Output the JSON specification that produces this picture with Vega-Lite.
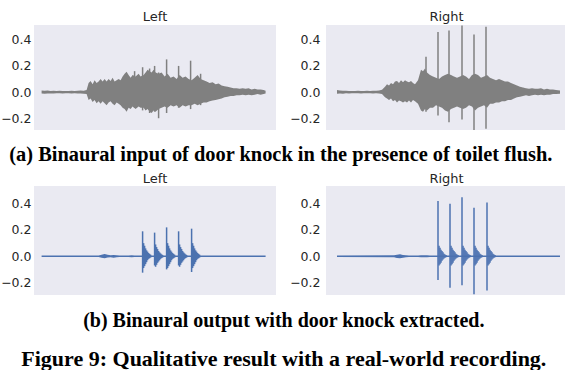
{
  "$schema": "https://vega.github.io/schema/vega-lite/v6.json",
  "padding": {"left": 0, "top": 11, "right": 0, "bottom": 0},
  "background": "white",
  "config": {
    "view": {"fill": "#EAEAF2", "stroke": null},
    "axis": {"grid": false, "ticks": false, "domain": false, "labelFont": "DejaVu Sans", "labelFontSize": 12.5, "labelColor": "#262626", "labelPadding": 6, "labelOverlap": false, "labelBound": false},
    "title": {"font": "DejaVu Sans", "fontSize": 13, "fontWeight": "normal", "color": "#262626", "offset": 3}
  },
  "datasets": {
    "env": [
      {"p":"aL","t":0,"lo":-0.01,"hi":0.012},{"p":"aL","t":3,"lo":-0.012,"hi":0.01},{"p":"aL","t":6,"lo":-0.01,"hi":0.013},{"p":"aL","t":9,"lo":-0.011,"hi":0.009},{"p":"aL","t":12,"lo":-0.01,"hi":0.011},{"p":"aL","t":15,"lo":-0.009,"hi":0.008},{"p":"aL","t":18,"lo":-0.008,"hi":0.01},{"p":"aL","t":21,"lo":-0.01,"hi":0.008},{"p":"aL","t":24,"lo":-0.008,"hi":0.009},{"p":"aL","t":27,"lo":-0.009,"hi":0.008},{"p":"aL","t":30,"lo":-0.01,"hi":0.01},{"p":"aL","t":33,"lo":-0.008,"hi":0.009},{"p":"aL","t":36,"lo":-0.01,"hi":0.01},{"p":"aL","t":39,"lo":-0.011,"hi":0.012},{"p":"aL","t":42,"lo":-0.012,"hi":0.011},{"p":"aL","t":45,"lo":-0.014,"hi":0.015},{"p":"aL","t":47,"lo":-0.06,"hi":0.07},{"p":"aL","t":49,"lo":-0.05,"hi":0.085},{"p":"aL","t":51,"lo":-0.075,"hi":0.06},{"p":"aL","t":53,"lo":-0.06,"hi":0.09},{"p":"aL","t":55,"lo":-0.085,"hi":0.07},{"p":"aL","t":57,"lo":-0.07,"hi":0.08},{"p":"aL","t":59,"lo":-0.09,"hi":0.1},{"p":"aL","t":61,"lo":-0.07,"hi":0.08},{"p":"aL","t":63,"lo":-0.085,"hi":0.1},{"p":"aL","t":65,"lo":-0.1,"hi":0.08},{"p":"aL","t":67,"lo":-0.08,"hi":0.1},{"p":"aL","t":69,"lo":-0.07,"hi":0.085},{"p":"aL","t":71,"lo":-0.09,"hi":0.11},{"p":"aL","t":73,"lo":-0.1,"hi":0.08},{"p":"aL","t":75,"lo":-0.08,"hi":0.09},{"p":"aL","t":77,"lo":-0.09,"hi":0.1},{"p":"aL","t":79,"lo":-0.1,"hi":0.09},{"p":"aL","t":81,"lo":-0.12,"hi":0.12},{"p":"aL","t":83,"lo":-0.13,"hi":0.14},{"p":"aL","t":85,"lo":-0.15,"hi":0.155},{"p":"aL","t":87,"lo":-0.12,"hi":0.13},{"p":"aL","t":89,"lo":-0.13,"hi":0.11},{"p":"aL","t":91,"lo":-0.11,"hi":0.13},{"p":"aL","t":94,"lo":-0.13,"hi":0.12},{"p":"aL","t":97,"lo":-0.11,"hi":0.14},{"p":"aL","t":99,"lo":-0.12,"hi":0.12},{"p":"aL","t":102,"lo":-0.12,"hi":0.13},{"p":"aL","t":104,"lo":-0.14,"hi":0.15},{"p":"aL","t":106,"lo":-0.13,"hi":0.17},{"p":"aL","t":108,"lo":-0.15,"hi":0.16},{"p":"aL","t":110,"lo":-0.16,"hi":0.15},{"p":"aL","t":112,"lo":-0.14,"hi":0.17},{"p":"aL","t":114,"lo":-0.15,"hi":0.15},{"p":"aL","t":117,"lo":-0.13,"hi":0.14},{"p":"aL","t":120,"lo":-0.12,"hi":0.15},{"p":"aL","t":123,"lo":-0.11,"hi":0.12},{"p":"aL","t":126,"lo":-0.12,"hi":0.14},{"p":"aL","t":129,"lo":-0.1,"hi":0.11},{"p":"aL","t":132,"lo":-0.11,"hi":0.12},{"p":"aL","t":135,"lo":-0.1,"hi":0.1},{"p":"aL","t":138,"lo":-0.12,"hi":0.13},{"p":"aL","t":141,"lo":-0.1,"hi":0.11},{"p":"aL","t":144,"lo":-0.11,"hi":0.12},{"p":"aL","t":147,"lo":-0.1,"hi":0.1},{"p":"aL","t":150,"lo":-0.1,"hi":0.09},{"p":"aL","t":153,"lo":-0.09,"hi":0.11},{"p":"aL","t":156,"lo":-0.1,"hi":0.13},{"p":"aL","t":159,"lo":-0.09,"hi":0.1},{"p":"aL","t":162,"lo":-0.08,"hi":0.09},{"p":"aL","t":165,"lo":-0.08,"hi":0.08},{"p":"aL","t":168,"lo":-0.07,"hi":0.07},{"p":"aL","t":171,"lo":-0.065,"hi":0.075},{"p":"aL","t":174,"lo":-0.06,"hi":0.06},{"p":"aL","t":177,"lo":-0.055,"hi":0.065},{"p":"aL","t":180,"lo":-0.05,"hi":0.05},{"p":"aL","t":183,"lo":-0.04,"hi":0.045},{"p":"aL","t":186,"lo":-0.035,"hi":0.04},{"p":"aL","t":189,"lo":-0.03,"hi":0.035},{"p":"aL","t":192,"lo":-0.03,"hi":0.03},{"p":"aL","t":195,"lo":-0.025,"hi":0.03},{"p":"aL","t":198,"lo":-0.025,"hi":0.025},{"p":"aL","t":201,"lo":-0.02,"hi":0.03},{"p":"aL","t":204,"lo":-0.025,"hi":0.025},{"p":"aL","t":207,"lo":-0.02,"hi":0.03},{"p":"aL","t":210,"lo":-0.025,"hi":0.02},{"p":"aL","t":213,"lo":-0.02,"hi":0.025},{"p":"aL","t":216,"lo":-0.015,"hi":0.02},{"p":"aL","t":219,"lo":-0.02,"hi":0.02},{"p":"aL","t":222,"lo":-0.015,"hi":0.015},{"p":"aL","t":224,"lo":-0.01,"hi":0.01},
      {"p":"aR","t":0,"lo":-0.012,"hi":0.015},{"p":"aR","t":3,"lo":-0.01,"hi":0.012},{"p":"aR","t":6,"lo":-0.012,"hi":0.01},{"p":"aR","t":9,"lo":-0.008,"hi":0.01},{"p":"aR","t":12,"lo":-0.01,"hi":0.008},{"p":"aR","t":15,"lo":-0.008,"hi":0.009},{"p":"aR","t":18,"lo":-0.009,"hi":0.008},{"p":"aR","t":21,"lo":-0.008,"hi":0.01},{"p":"aR","t":24,"lo":-0.01,"hi":0.009},{"p":"aR","t":27,"lo":-0.008,"hi":0.008},{"p":"aR","t":30,"lo":-0.009,"hi":0.01},{"p":"aR","t":33,"lo":-0.008,"hi":0.009},{"p":"aR","t":36,"lo":-0.01,"hi":0.01},{"p":"aR","t":39,"lo":-0.009,"hi":0.011},{"p":"aR","t":42,"lo":-0.011,"hi":0.012},{"p":"aR","t":45,"lo":-0.015,"hi":0.018},{"p":"aR","t":48,"lo":-0.04,"hi":0.04},{"p":"aR","t":50,"lo":-0.05,"hi":0.06},{"p":"aR","t":52,"lo":-0.06,"hi":0.05},{"p":"aR","t":54,"lo":-0.05,"hi":0.07},{"p":"aR","t":56,"lo":-0.07,"hi":0.06},{"p":"aR","t":58,"lo":-0.06,"hi":0.08},{"p":"aR","t":60,"lo":-0.08,"hi":0.085},{"p":"aR","t":62,"lo":-0.065,"hi":0.07},{"p":"aR","t":64,"lo":-0.07,"hi":0.09},{"p":"aR","t":66,"lo":-0.08,"hi":0.075},{"p":"aR","t":68,"lo":-0.07,"hi":0.09},{"p":"aR","t":70,"lo":-0.08,"hi":0.08},{"p":"aR","t":72,"lo":-0.065,"hi":0.075},{"p":"aR","t":74,"lo":-0.08,"hi":0.085},{"p":"aR","t":76,"lo":-0.06,"hi":0.07},{"p":"aR","t":78,"lo":-0.07,"hi":0.06},{"p":"aR","t":81,"lo":-0.09,"hi":0.09},{"p":"aR","t":84,"lo":-0.14,"hi":0.17},{"p":"aR","t":86,"lo":-0.15,"hi":0.16},{"p":"aR","t":88,"lo":-0.13,"hi":0.18},{"p":"aR","t":90,"lo":-0.14,"hi":0.15},{"p":"aR","t":93,"lo":-0.12,"hi":0.13},{"p":"aR","t":96,"lo":-0.12,"hi":0.12},{"p":"aR","t":99,"lo":-0.1,"hi":0.11},{"p":"aR","t":102,"lo":-0.11,"hi":0.1},{"p":"aR","t":105,"lo":-0.12,"hi":0.12},{"p":"aR","t":108,"lo":-0.14,"hi":0.13},{"p":"aR","t":111,"lo":-0.15,"hi":0.14},{"p":"aR","t":114,"lo":-0.13,"hi":0.13},{"p":"aR","t":117,"lo":-0.12,"hi":0.12},{"p":"aR","t":120,"lo":-0.11,"hi":0.11},{"p":"aR","t":123,"lo":-0.12,"hi":0.12},{"p":"aR","t":126,"lo":-0.13,"hi":0.13},{"p":"aR","t":129,"lo":-0.12,"hi":0.12},{"p":"aR","t":132,"lo":-0.1,"hi":0.1},{"p":"aR","t":135,"lo":-0.11,"hi":0.13},{"p":"aR","t":138,"lo":-0.14,"hi":0.14},{"p":"aR","t":141,"lo":-0.12,"hi":0.13},{"p":"aR","t":144,"lo":-0.11,"hi":0.11},{"p":"aR","t":147,"lo":-0.1,"hi":0.12},{"p":"aR","t":150,"lo":-0.12,"hi":0.13},{"p":"aR","t":153,"lo":-0.09,"hi":0.11},{"p":"aR","t":156,"lo":-0.09,"hi":0.1},{"p":"aR","t":159,"lo":-0.08,"hi":0.09},{"p":"aR","t":162,"lo":-0.08,"hi":0.1},{"p":"aR","t":165,"lo":-0.07,"hi":0.09},{"p":"aR","t":168,"lo":-0.07,"hi":0.08},{"p":"aR","t":171,"lo":-0.06,"hi":0.08},{"p":"aR","t":174,"lo":-0.06,"hi":0.07},{"p":"aR","t":177,"lo":-0.05,"hi":0.06},{"p":"aR","t":180,"lo":-0.04,"hi":0.05},{"p":"aR","t":183,"lo":-0.035,"hi":0.04},{"p":"aR","t":186,"lo":-0.03,"hi":0.035},{"p":"aR","t":189,"lo":-0.025,"hi":0.03},{"p":"aR","t":192,"lo":-0.03,"hi":0.025},{"p":"aR","t":195,"lo":-0.025,"hi":0.03},{"p":"aR","t":198,"lo":-0.02,"hi":0.025},{"p":"aR","t":201,"lo":-0.025,"hi":0.025},{"p":"aR","t":204,"lo":-0.02,"hi":0.03},{"p":"aR","t":207,"lo":-0.025,"hi":0.02},{"p":"aR","t":210,"lo":-0.02,"hi":0.025},{"p":"aR","t":213,"lo":-0.02,"hi":0.02},{"p":"aR","t":216,"lo":-0.015,"hi":0.02},{"p":"aR","t":219,"lo":-0.015,"hi":0.015},{"p":"aR","t":223,"lo":-0.012,"hi":0.012},
      {"p":"bL","t":0,"lo":-0.005,"hi":0.005},{"p":"bL","t":57,"lo":-0.006,"hi":0.006},{"p":"bL","t":60,"lo":-0.012,"hi":0.012},{"p":"bL","t":63,"lo":-0.015,"hi":0.018},{"p":"bL","t":66,"lo":-0.01,"hi":0.012},{"p":"bL","t":69,"lo":-0.008,"hi":0.008},{"p":"bL","t":72,"lo":-0.012,"hi":0.01},{"p":"bL","t":75,"lo":-0.007,"hi":0.007},{"p":"bL","t":78,"lo":-0.005,"hi":0.005},{"p":"bL","t":87,"lo":-0.006,"hi":0.006},{"p":"bL","t":90,"lo":-0.008,"hi":0.008},{"p":"bL","t":93,"lo":-0.005,"hi":0.005},{"p":"bL","t":224,"lo":-0.005,"hi":0.005},
      {"p":"bR","t":0,"lo":-0.005,"hi":0.005},{"p":"bR","t":57,"lo":-0.007,"hi":0.007},{"p":"bR","t":60,"lo":-0.014,"hi":0.012},{"p":"bR","t":63,"lo":-0.016,"hi":0.015},{"p":"bR","t":66,"lo":-0.012,"hi":0.01},{"p":"bR","t":69,"lo":-0.008,"hi":0.008},{"p":"bR","t":72,"lo":-0.005,"hi":0.005},{"p":"bR","t":81,"lo":-0.005,"hi":0.005},{"p":"bR","t":84,"lo":-0.008,"hi":0.008},{"p":"bR","t":87,"lo":-0.007,"hi":0.007},{"p":"bR","t":90,"lo":-0.008,"hi":0.008},{"p":"bR","t":93,"lo":-0.005,"hi":0.005},{"p":"bR","t":223,"lo":-0.005,"hi":0.005}
    ],
    "spk": [
      {"p":"aL","t":93,"lo":-0.12,"hi":0.16},{"p":"aL","t":101,"lo":-0.14,"hi":0.19},{"p":"aL","t":108,"lo":-0.16,"hi":0.18},{"p":"aL","t":113,"lo":-0.15,"hi":0.2},{"p":"aL","t":117,"lo":-0.2,"hi":0.15},{"p":"aL","t":125,"lo":-0.16,"hi":0.25},{"p":"aL","t":137,"lo":-0.12,"hi":0.2},{"p":"aL","t":149,"lo":-0.13,"hi":0.24},{"p":"aL","t":159,"lo":-0.1,"hi":0.14},
      {"p":"aR","t":89,"lo":-0.15,"hi":0.27},{"p":"aR","t":101,"lo":-0.18,"hi":0.46},{"p":"aR","t":112,"lo":-0.23,"hi":0.47},{"p":"aR","t":125,"lo":-0.21,"hi":0.51},{"p":"aR","t":137,"lo":-0.29,"hi":0.44},{"p":"aR","t":149,"lo":-0.28,"hi":0.5},
      {"p":"bL","t":101,"lo":-0.125,"hi":0.19},{"p":"bL","t":102,"lo":-0.09,"hi":0.1},{"p":"bL","t":103,"lo":-0.075,"hi":0.08},{"p":"bL","t":104,"lo":-0.06,"hi":0.06},{"p":"bL","t":105,"lo":-0.045,"hi":0.045},{"p":"bL","t":106,"lo":-0.03,"hi":0.035},{"p":"bL","t":107,"lo":-0.02,"hi":0.025},{"p":"bL","t":108,"lo":-0.015,"hi":0.018},{"p":"bL","t":109,"lo":-0.01,"hi":0.012},
      {"p":"bL","t":113,"lo":-0.07,"hi":0.18},{"p":"bL","t":114,"lo":-0.08,"hi":0.09},{"p":"bL","t":115,"lo":-0.065,"hi":0.07},{"p":"bL","t":116,"lo":-0.05,"hi":0.055},{"p":"bL","t":117,"lo":-0.04,"hi":0.04},{"p":"bL","t":118,"lo":-0.03,"hi":0.03},{"p":"bL","t":119,"lo":-0.02,"hi":0.022},{"p":"bL","t":120,"lo":-0.014,"hi":0.015},{"p":"bL","t":121,"lo":-0.01,"hi":0.01},
      {"p":"bL","t":125,"lo":-0.1,"hi":0.22},{"p":"bL","t":126,"lo":-0.09,"hi":0.1},{"p":"bL","t":127,"lo":-0.075,"hi":0.08},{"p":"bL","t":128,"lo":-0.06,"hi":0.06},{"p":"bL","t":129,"lo":-0.045,"hi":0.045},{"p":"bL","t":130,"lo":-0.03,"hi":0.035},{"p":"bL","t":131,"lo":-0.02,"hi":0.025},{"p":"bL","t":132,"lo":-0.015,"hi":0.018},{"p":"bL","t":133,"lo":-0.01,"hi":0.012},
      {"p":"bL","t":137,"lo":-0.07,"hi":0.19},{"p":"bL","t":138,"lo":-0.08,"hi":0.09},{"p":"bL","t":139,"lo":-0.065,"hi":0.07},{"p":"bL","t":140,"lo":-0.05,"hi":0.055},{"p":"bL","t":141,"lo":-0.04,"hi":0.04},{"p":"bL","t":142,"lo":-0.03,"hi":0.03},{"p":"bL","t":143,"lo":-0.02,"hi":0.022},{"p":"bL","t":144,"lo":-0.014,"hi":0.015},{"p":"bL","t":145,"lo":-0.01,"hi":0.01},
      {"p":"bL","t":150,"lo":-0.12,"hi":0.21},{"p":"bL","t":151,"lo":-0.09,"hi":0.1},{"p":"bL","t":152,"lo":-0.075,"hi":0.08},{"p":"bL","t":153,"lo":-0.06,"hi":0.06},{"p":"bL","t":154,"lo":-0.045,"hi":0.045},{"p":"bL","t":155,"lo":-0.03,"hi":0.035},{"p":"bL","t":156,"lo":-0.02,"hi":0.025},{"p":"bL","t":157,"lo":-0.015,"hi":0.018},{"p":"bL","t":158,"lo":-0.01,"hi":0.012},
      {"p":"bR","t":101,"lo":-0.18,"hi":0.42},{"p":"bR","t":102,"lo":-0.07,"hi":0.08},{"p":"bR","t":103,"lo":-0.06,"hi":0.065},{"p":"bR","t":104,"lo":-0.05,"hi":0.05},{"p":"bR","t":105,"lo":-0.035,"hi":0.04},{"p":"bR","t":106,"lo":-0.025,"hi":0.03},{"p":"bR","t":107,"lo":-0.018,"hi":0.02},{"p":"bR","t":108,"lo":-0.012,"hi":0.014},{"p":"bR","t":109,"lo":-0.008,"hi":0.01},
      {"p":"bR","t":113,"lo":-0.24,"hi":0.4},{"p":"bR","t":114,"lo":-0.07,"hi":0.08},{"p":"bR","t":115,"lo":-0.06,"hi":0.065},{"p":"bR","t":116,"lo":-0.05,"hi":0.05},{"p":"bR","t":117,"lo":-0.035,"hi":0.04},{"p":"bR","t":118,"lo":-0.025,"hi":0.03},{"p":"bR","t":119,"lo":-0.018,"hi":0.02},{"p":"bR","t":120,"lo":-0.012,"hi":0.014},{"p":"bR","t":121,"lo":-0.008,"hi":0.01},
      {"p":"bR","t":125,"lo":-0.22,"hi":0.45},{"p":"bR","t":126,"lo":-0.07,"hi":0.08},{"p":"bR","t":127,"lo":-0.06,"hi":0.065},{"p":"bR","t":128,"lo":-0.05,"hi":0.05},{"p":"bR","t":129,"lo":-0.035,"hi":0.04},{"p":"bR","t":130,"lo":-0.025,"hi":0.03},{"p":"bR","t":131,"lo":-0.018,"hi":0.02},{"p":"bR","t":132,"lo":-0.012,"hi":0.014},{"p":"bR","t":133,"lo":-0.008,"hi":0.01},
      {"p":"bR","t":137,"lo":-0.29,"hi":0.37},{"p":"bR","t":138,"lo":-0.07,"hi":0.08},{"p":"bR","t":139,"lo":-0.06,"hi":0.065},{"p":"bR","t":140,"lo":-0.05,"hi":0.05},{"p":"bR","t":141,"lo":-0.035,"hi":0.04},{"p":"bR","t":142,"lo":-0.025,"hi":0.03},{"p":"bR","t":143,"lo":-0.018,"hi":0.02},{"p":"bR","t":144,"lo":-0.012,"hi":0.014},{"p":"bR","t":145,"lo":-0.008,"hi":0.01},
      {"p":"bR","t":150,"lo":-0.26,"hi":0.41},{"p":"bR","t":151,"lo":-0.07,"hi":0.08},{"p":"bR","t":152,"lo":-0.06,"hi":0.065},{"p":"bR","t":153,"lo":-0.05,"hi":0.05},{"p":"bR","t":154,"lo":-0.035,"hi":0.04},{"p":"bR","t":155,"lo":-0.025,"hi":0.03},{"p":"bR","t":156,"lo":-0.018,"hi":0.02},{"p":"bR","t":157,"lo":-0.012,"hi":0.014},{"p":"bR","t":158,"lo":-0.008,"hi":0.01}
    ]
  },
  "spacing": 7,
  "title": {"text": "Figure 9: Qualitative result with a real-world recording.", "orient": "bottom", "anchor": "middle", "font": "Liberation Serif", "fontSize": 22, "fontWeight": "bold", "color": "black", "offset": 18},
  "vconcat": [
    {
      "spacing": 13,
      "title": {"text": "(a) Binaural input of door knock in the presence of toilet flush.", "orient": "bottom", "anchor": "middle", "font": "Liberation Serif", "fontSize": 20.4, "fontWeight": "bold", "color": "black", "offset": 15, "dx": -3},
      "hconcat": [
        {
          "title": {"text": "Left", "offset": 1}, "width": 242, "height": 105,
          "encoding": {"x": {"field": "t", "type": "quantitative", "scale": {"domain": [-7.6, 234.4], "nice": false, "zero": false}, "axis": null},
                       "y": {"field": "lo", "type": "quantitative", "scale": {"domain": [-0.29, 0.513], "nice": false, "zero": false}, "axis": {"values": [-0.2, 0, 0.2, 0.4], "format": ".1f", "title": null, "labelPadding": 3}},
                       "y2": {"field": "hi"}},
          "layer": [
            {"data": {"name": "env"}, "transform": [{"filter": "datum.p == 'aL'"}], "mark": {"type": "area", "color": "#808080", "clip": true}},
            {"data": {"name": "spk"}, "transform": [{"filter": "datum.p == 'aL'"}], "mark": {"type": "rule", "strokeWidth": 1.5, "color": "#808080", "clip": true}}
          ]
        },
        {
          "title": {"text": "Right", "offset": 1}, "width": 241, "height": 105,
          "encoding": {"x": {"field": "t", "type": "quantitative", "scale": {"domain": [-11, 230], "nice": false, "zero": false}, "axis": null},
                       "y": {"field": "lo", "type": "quantitative", "scale": {"domain": [-0.29, 0.513], "nice": false, "zero": false}, "axis": {"values": [-0.2, 0, 0.2, 0.4], "format": ".1f", "title": null}},
                       "y2": {"field": "hi"}},
          "layer": [
            {"data": {"name": "env"}, "transform": [{"filter": "datum.p == 'aR'"}], "mark": {"type": "area", "color": "#808080", "clip": true}},
            {"data": {"name": "spk"}, "transform": [{"filter": "datum.p == 'aR'"}], "mark": {"type": "rule", "strokeWidth": 1.5, "color": "#808080", "clip": true}}
          ]
        }
      ]
    },
    {
      "spacing": 13,
      "title": {"text": "(b) Binaural output with door knock extracted.", "orient": "bottom", "anchor": "middle", "font": "Liberation Serif", "fontSize": 20, "fontWeight": "bold", "color": "black", "offset": 16},
      "hconcat": [
        {
          "title": {"text": "Left", "offset": 0}, "width": 242, "height": 109,
          "encoding": {"x": {"field": "t", "type": "quantitative", "scale": {"domain": [-7.6, 234.4], "nice": false, "zero": false}, "axis": null},
                       "y": {"field": "lo", "type": "quantitative", "scale": {"domain": [-0.295, 0.535], "nice": false, "zero": false}, "axis": {"values": [-0.2, 0, 0.2, 0.4], "format": ".1f", "title": null, "labelPadding": 3}},
                       "y2": {"field": "hi"}},
          "layer": [
            {"data": {"name": "env"}, "transform": [{"filter": "datum.p == 'bL'"}], "mark": {"type": "area", "color": "#4C72B0", "clip": true}},
            {"data": {"name": "spk"}, "transform": [{"filter": "datum.p == 'bL'"}], "mark": {"type": "rule", "strokeWidth": 1.5, "color": "#4C72B0", "clip": true}}
          ]
        },
        {
          "title": {"text": "Right", "offset": 0}, "width": 241, "height": 109,
          "encoding": {"x": {"field": "t", "type": "quantitative", "scale": {"domain": [-11, 230], "nice": false, "zero": false}, "axis": null},
                       "y": {"field": "lo", "type": "quantitative", "scale": {"domain": [-0.295, 0.535], "nice": false, "zero": false}, "axis": {"values": [-0.2, 0, 0.2, 0.4], "format": ".1f", "title": null}},
                       "y2": {"field": "hi"}},
          "layer": [
            {"data": {"name": "env"}, "transform": [{"filter": "datum.p == 'bR'"}], "mark": {"type": "area", "color": "#4C72B0", "clip": true}},
            {"data": {"name": "spk"}, "transform": [{"filter": "datum.p == 'bR'"}], "mark": {"type": "rule", "strokeWidth": 1.5, "color": "#4C72B0", "clip": true}}
          ]
        }
      ]
    }
  ]
}
